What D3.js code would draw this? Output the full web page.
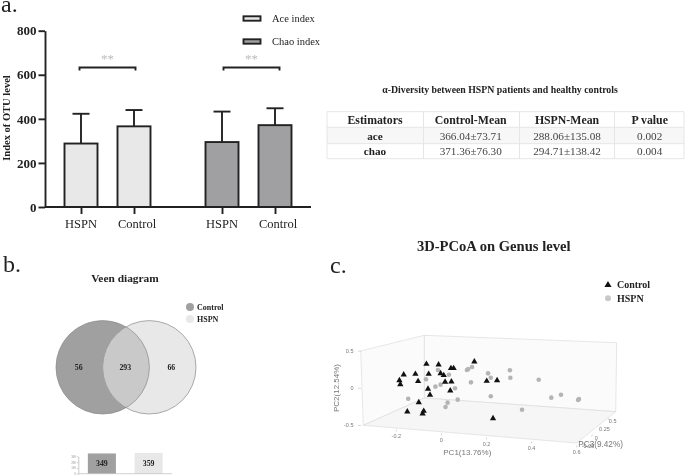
<!DOCTYPE html>
<html>
<head>
<meta charset="utf-8">
<style>
  html, body { margin: 0; padding: 0; background: #fff; }
  svg { display: block; filter: blur(0.35px); }
  text { font-family: "Liberation Serif", serif; fill: #222; }
  .sans text, text.sans { font-family: "Liberation Sans", sans-serif; }
</style>
</head>
<body>
<div class="canvas"></div>
<script src="https://cdnjs.cloudflare.com/ajax/libs/d3/7.8.5/d3.min.js"></script>
<script>
// bar chart values
const groups = ['Ace index', 'Chao index'];
const samples = ['HSPN', 'Control'];
const barMeans = [[288, 366], [294.7, 371.4]];
const barTops = [[423, 440], [433, 448]];
const barTicks = [0, 200, 400, 600, 800];

// table
const tableTitle = 'α-Diversity between HSPN patients and healthy controls';
const tableHeader = ['Estimators', 'Control-Mean', 'HSPN-Mean', 'P value'];
const tableRows = [
  ['ace', '366.04±73.71', '288.06±135.08', '0.002'],
  ['chao', '371.36±76.30', '294.71±138.42', '0.004']
];

// venn
const vennCounts = [56, 293, 66];
const vennNames = ['Control', 'HSPN'];
const setTotals = [349, 359];
const setTicks = [0, 100, 200, 300];

// 3D PCoA as [PC1, PC2]
const pcoaControl = [
  [-0.047, 0.327], [0.007, 0.318], [0.062, 0.269], [0.074, 0.269], [0.166, 0.358],
  [-0.148, 0.183], [-0.096, 0.192], [-0.037, 0.192], [-0.167, 0.107], [-0.163, 0.053],
  [-0.084, 0.094], [0.016, 0.201], [0.030, 0.175], [0.036, 0.085], [0.064, 0.089],
  [0.221, 0.098], [0.267, 0.107], [-0.040, -0.009], [0.059, -0.032], [-0.031, -0.090],
  [-0.081, -0.189], [-0.132, -0.315], [-0.059, -0.306], [-0.064, -0.341], [0.249, -0.404]
];
const pcoaHspn = [
  [0.004, 0.246], [0.053, 0.183], [-0.049, 0.121], [-0.007, 0.022], [0.016, 0.049],
  [0.080, 0], [0.133, 0.246], [0.139, 0.260], [0.156, 0.287], [0.227, 0.201],
  [0.239, 0.143], [0.151, 0.080], [0.324, 0.242], [0.326, 0.143], [0.452, 0.116],
  [0.508, -0.126], [0.551, -0.086], [0.627, -0.157], [0.631, -0.144], [-0.128, -0.140],
  [0.047, -0.193], [0.038, -0.252], [0.092, -0.153], [0.239, -0.108], [0.378, -0.288]
];
const pc1Ticks = [-0.2, 0, 0.2, 0.4, 0.6];
const pc2Ticks = [-0.5, 0, 0.5];
const pc3Ticks = [-0.25, 0, 0.25, 0.5];

const ink = '#222';
const inkWidth = 1.9;
const barFills = ['#e8e8e8', '#a0a0a2'];

const svg = d3.select('.canvas')
  .append('svg')
  .attr('width', 685)
  .attr('height', 476);

const panelLabel = (txt, x, y) => svg.append('text')
  .attr('x', x).attr('y', y)
  .attr('font-size', 24)
  .text(txt);

panelLabel('a.', 1, 12);
panelLabel('b.', 3, 272);
panelLabel('c.', 330, 273);

// ---- a. bars ----
const y = d3.scaleLinear().domain([0, 800]).range([207, 30.7]);
const groupX = d3.scalePoint().domain(groups).range([107.5, 248.5]);
const sampleX = d3.scalePoint().domain(samples).range([-26.5, 26.5]);
const barX = (g, s) => groupX(g) + sampleX(s);
const barWidth = 33;
const bracketShift = [0, 3];

const tickKeys = groups.flatMap(g => samples.map(s => `${g}|${s}`));
const xTicks = d3.scaleOrdinal()
  .domain(tickKeys)
  .range(tickKeys.map(k => barX(...k.split('|'))));

const bars = svg.append('g');

groups.forEach((g, gi) => {
  samples.forEach((s, si) => {
    const cx = barX(g, s);
    // error bar goes under the bar
    bars.append('line')
      .attr('x1', cx).attr('x2', cx)
      .attr('y1', y(barMeans[gi][si])).attr('y2', y(barTops[gi][si]))
      .attr('stroke', ink).attr('stroke-width', inkWidth);
    bars.append('line')
      .attr('x1', cx - 8.5).attr('x2', cx + 8.5)
      .attr('y1', y(barTops[gi][si])).attr('y2', y(barTops[gi][si]))
      .attr('stroke', ink).attr('stroke-width', inkWidth);
    bars.append('rect')
      .attr('x', cx - barWidth / 2)
      .attr('y', y(barMeans[gi][si]))
      .attr('width', barWidth)
      .attr('height', y(0) - y(barMeans[gi][si]))
      .attr('fill', barFills[gi])
      .attr('stroke', ink).attr('stroke-width', inkWidth);
  });

  // significance bracket
  const bx0 = barX(g, samples[0]) - 1.5 + bracketShift[gi];
  const bx1 = barX(g, samples[1]) + 1.5 + bracketShift[gi];
  bars.append('path')
    .attr('d', d3.line()([[bx0, 70.5], [bx0, 67.5], [bx1, 67.5], [bx1, 70.5]]))
    .attr('fill', 'none')
    .attr('stroke', ink).attr('stroke-width', inkWidth);
  bars.append('text')
    .attr('x', groupX(g) + bracketShift[gi]).attr('y', 63)
    .attr('text-anchor', 'middle')
    .attr('font-size', 13)
    .style('fill', '#bbb')
    .text('**');
});

const yAxis = svg.append('g')
  .attr('transform', 'translate(45, 0)')
  .call(d3.axisLeft(y).tickValues(barTicks).tickSize(6.5).tickSizeOuter(0).tickPadding(2));
yAxis.selectAll('text')
  .attr('font-size', 13).attr('font-weight', 'bold')
  .style('font-family', '"Liberation Serif", serif');
yAxis.selectAll('line, path').attr('stroke', ink).attr('stroke-width', inkWidth);

const xAxis = svg.append('g')
  .attr('transform', 'translate(0, 207)')
  .call(d3.axisBottom(xTicks).tickSize(7).tickPadding(5).tickFormat(k => k.split('|')[1]));
xAxis.select('.domain').remove();
xAxis.selectAll('line').attr('stroke', ink).attr('stroke-width', inkWidth);
xAxis.selectAll('text')
  .attr('font-size', 12.5)
  .attr('dx', k => k.endsWith('Control') ? 2.5 : -0.5)
  .style('font-family', '"Liberation Serif", serif');
svg.append('line')
  .attr('x1', 45).attr('x2', 311)
  .attr('y1', 207).attr('y2', 207)
  .attr('stroke', ink).attr('stroke-width', inkWidth);

svg.append('text')
  .attr('transform', 'translate(9.5, 118) rotate(-90)')
  .attr('text-anchor', 'middle')
  .attr('font-size', 10.5).attr('font-weight', 'bold')
  .text('Index of OTU level');

groups.forEach((g, i) => {
  const ly = 18.5 + i * 23;
  svg.append('rect')
    .attr('x', 243.5).attr('y', ly - 2.2).attr('width', 17).attr('height', 4.4)
    .attr('fill', barFills[i]).attr('stroke', ink).attr('stroke-width', inkWidth);
  svg.append('text')
    .attr('x', 272).attr('y', ly + 3.5)
    .attr('font-size', 10.5)
    .text(g);
});

// ---- table ----
svg.append('text')
  .attr('x', 500).attr('y', 93)
  .attr('text-anchor', 'middle')
  .attr('font-size', 9.8).attr('font-weight', 'bold')
  .text(tableTitle);

const colEdges = [327, 423.5, 519.5, 614.5, 684];
const colCenters = [375, 470.7, 567, 649.7];
const rowEdges = [111.7, 127.3, 143.7, 158.7];
const rowBase = [124, 139.7, 155];
const table = svg.append('g');

table.append('rect')
  .attr('x', colEdges[0]).attr('y', rowEdges[1])
  .attr('width', colEdges[4] - colEdges[0]).attr('height', rowEdges[2] - rowEdges[1])
  .attr('fill', '#f7f7f7');
rowEdges.forEach(e => table.append('line')
  .attr('x1', colEdges[0]).attr('x2', colEdges[4]).attr('y1', e).attr('y2', e)
  .attr('stroke', '#e6e6e6'));
colEdges.forEach(e => table.append('line')
  .attr('x1', e).attr('x2', e).attr('y1', rowEdges[0]).attr('y2', rowEdges[3])
  .attr('stroke', '#e6e6e6'));

[tableHeader, ...tableRows].forEach((row, r) => {
  row.forEach((cell, c) => {
    table.append('text')
      .attr('x', colCenters[c]).attr('y', rowBase[r])
      .attr('text-anchor', 'middle')
      .attr('font-size', r === 0 ? 11.8 : 11.2)
      .attr('font-weight', r === 0 || c === 0 ? 'bold' : 'normal')
      .style('fill', r === 0 || c === 0 ? ink : '#444')
      .text(cell);
  });
});

// ---- b. venn ----
svg.append('text')
  .attr('x', 125).attr('y', 282)
  .attr('text-anchor', 'middle')
  .attr('font-size', 11.4).attr('font-weight', 'bold')
  .text('Veen diagram');

const vennFills = ['#a0a0a0', '#e8e8e8'];
const vennR = 46.7;
const vennCx = [102.7, 149.3];
const vennCy = 367.3;
const venn = svg.append('g');

venn.append('clipPath').attr('id', 'leftClip')
  .append('circle').attr('cx', vennCx[0]).attr('cy', vennCy).attr('r', vennR);

vennCx.forEach((cx, i) => venn.append('circle')
  .attr('cx', cx).attr('cy', vennCy).attr('r', vennR)
  .attr('fill', vennFills[i]));
venn.append('circle')
  .attr('cx', vennCx[1]).attr('cy', vennCy).attr('r', vennR)
  .attr('clip-path', 'url(#leftClip)')
  .attr('fill', '#c9c9c9');
vennCx.forEach(cx => venn.append('circle')
  .attr('cx', cx).attr('cy', vennCy).attr('r', vennR)
  .attr('fill', 'none').attr('stroke', '#8a8a8a').attr('stroke-width', 0.7));

[78.7, 125.3, 171.3].forEach((x, i) => venn.append('text')
  .attr('x', x).attr('y', vennCy + 3)
  .attr('text-anchor', 'middle')
  .attr('font-size', 7.8).attr('font-weight', 'bold')
  .text(vennCounts[i]));

vennNames.forEach((name, i) => {
  const ly = 307 + i * 12;
  svg.append('circle').attr('cx', 190).attr('cy', ly).attr('r', 4)
    .attr('fill', vennFills[i]);
  svg.append('text')
    .attr('x', 197).attr('y', ly + 2.7)
    .attr('font-size', 8).attr('font-weight', 'bold')
    .text(name);
});

// small totals bars under the venn
const setY = d3.scaleLinear().domain([0, 300]).range([473.7, 456.3]);
const setX = d3.scaleBand().domain(vennNames).range([78.5, 172]).paddingInner(0.4).paddingOuter(0.2);

vennNames.forEach((name, i) => {
  svg.append('rect')
    .attr('x', setX(name)).attr('y', setY(setTotals[i]))
    .attr('width', setX.bandwidth())
    .attr('height', setY(0) - setY(setTotals[i]))
    .attr('fill', vennFills[i]);
  svg.append('text')
    .attr('x', setX(name) + setX.bandwidth() / 2).attr('y', 466)
    .attr('text-anchor', 'middle')
    .attr('font-size', 7.8).attr('font-weight', 'bold')
    .text(setTotals[i]);
});

const setAxis = svg.append('g')
  .attr('transform', 'translate(78.3, 0)')
  .call(d3.axisLeft(setY).tickValues(setTicks).tickSize(1.5).tickSizeOuter(0).tickPadding(1));
setAxis.selectAll('text').attr('font-size', 3).style('fill', '#888');
setAxis.selectAll('line, path').attr('stroke', '#999').attr('stroke-width', 0.5);
svg.append('line')
  .attr('x1', 78.3).attr('x2', 172)
  .attr('y1', 473.7).attr('y2', 473.7)
  .attr('stroke', '#bbb').attr('stroke-width', 0.7);

// ---- c. PCoA ----
svg.append('text')
  .attr('x', 493.7).attr('y', 250.7)
  .attr('text-anchor', 'middle')
  .attr('font-size', 14.6).attr('font-weight', 'bold')
  .text('3D-PCoA on Genus level');

const pcoa = svg.append('g').attr('class', 'sans');
const wallLine = d3.line();

// corners of the box in the picture
const boxBack = [[424.3, 335.3], [616.7, 342.7], [615.7, 411.7], [424.3, 398]];
const boxLeft = [[360.7, 351], [424.3, 335.3], [424.3, 398], [363.3, 425.3]];
const boxFloor = [[363.3, 425.3], [424.3, 398], [615.7, 411.7], [576.7, 443]];

[boxBack, boxLeft, boxFloor].forEach((wall, i) => pcoa.append('path')
  .attr('d', wallLine(wall) + 'Z')
  .attr('fill', i === 2 ? '#f6f6f6' : '#fbfbfb')
  .attr('stroke', '#dcdcdc').attr('stroke-width', 0.7));

const pcX = d3.scaleLinear().domain([-0.2, 0.6]).range([392, 572]);
const pcY = d3.scaleLinear().domain([-0.5, 0.5]).range([425.45, 351.15]);

const triangle = d3.symbol(d3.symbolTriangle, 17);
pcoa.selectAll('circle.hspn')
  .data(pcoaHspn)
  .join('circle')
  .attr('class', 'hspn')
  .attr('cx', d => pcX(d[0]))
  .attr('cy', d => pcY(d[1]))
  .attr('r', 2.3)
  .attr('fill', '#b4b4b4');
pcoa.selectAll('path.control')
  .data(pcoaControl)
  .join('path')
  .attr('class', 'control')
  .attr('d', triangle)
  .attr('transform', d => `translate(${pcX(d[0])}, ${pcY(d[1])})`)
  .attr('fill', '#111');

// tick labels run along the slanted edges
const tickFont = 5.5;
const grey = '#777';
const pc1LabelX = d3.scaleLinear().domain([-0.2, 0.6]).range([396.3, 576.7]);
const pc1LabelY = d3.scaleLinear().domain([-0.2, 0.6]).range([437.5, 453.5]);
pc1Ticks.forEach(t => {
  pcoa.append('text')
    .attr('x', pc1LabelX(t)).attr('y', pc1LabelY(t))
    .attr('text-anchor', 'middle')
    .attr('font-size', tickFont).style('fill', grey)
    .text(t);
  pcoa.append('line')
    .attr('x1', pc1LabelX(t)).attr('x2', pc1LabelX(t))
    .attr('y1', pc1LabelY(t) - 8).attr('y2', pc1LabelY(t) - 6)
    .attr('stroke', '#bbb').attr('stroke-width', 0.6);
});

pc2Ticks.forEach(t => {
  pcoa.append('text')
    .attr('x', 353.5).attr('y', pcY(t) + 2)
    .attr('text-anchor', 'end')
    .attr('font-size', tickFont).style('fill', grey)
    .text(t);
  pcoa.append('line')
    .attr('x1', 358).attr('x2', 361).attr('y1', pcY(t)).attr('y2', pcY(t))
    .attr('stroke', '#bbb').attr('stroke-width', 0.6);
});

const pc3LabelX = d3.scaleLinear().domain([-0.25, 0.5]).range([587, 611.7]);
const pc3LabelY = d3.scaleLinear().domain([-0.25, 0.5]).range([447.7, 423.3]);
pc3Ticks.forEach(t => {
  pcoa.append('text')
    .attr('x', pc3LabelX(t) + 1).attr('y', pc3LabelY(t))
    .attr('text-anchor', 'middle')
    .attr('font-size', tickFont).style('fill', grey)
    .text(t);
  pcoa.append('line')
    .attr('x1', pc3LabelX(t) - 3.5).attr('x2', pc3LabelX(t) - 3)
    .attr('y1', pc3LabelY(t) - 3).attr('y2', pc3LabelY(t) - 5)
    .attr('stroke', '#bbb').attr('stroke-width', 0.6);
});

pcoa.append('text')
  .attr('x', 467.3).attr('y', 455)
  .attr('text-anchor', 'middle')
  .attr('font-size', 8).style('fill', grey)
  .text('PC1(13.76%)');
pcoa.append('text')
  .attr('transform', 'translate(339, 388) rotate(-90)')
  .attr('text-anchor', 'middle')
  .attr('font-size', 8).style('fill', grey)
  .text('PC2(12.54%)');
pcoa.append('text')
  .attr('x', 578.3).attr('y', 446.7)
  .attr('font-size', 8.2).style('fill', grey)
  .text('PC3(9.42%)');

// legend
svg.append('path')
  .attr('d', d3.symbol(d3.symbolTriangle, 22))
  .attr('transform', 'translate(608, 285)')
  .attr('fill', '#111');
svg.append('circle')
  .attr('cx', 608).attr('cy', 298.3).attr('r', 3)
  .attr('fill', '#c8c8c8');
vennNames.forEach((name, i) => svg.append('text')
  .attr('x', 617).attr('y', 288.3 + i * 13.4)
  .attr('font-size', 10).attr('font-weight', 'bold')
  .text(name));
</script>
</body>
</html>
